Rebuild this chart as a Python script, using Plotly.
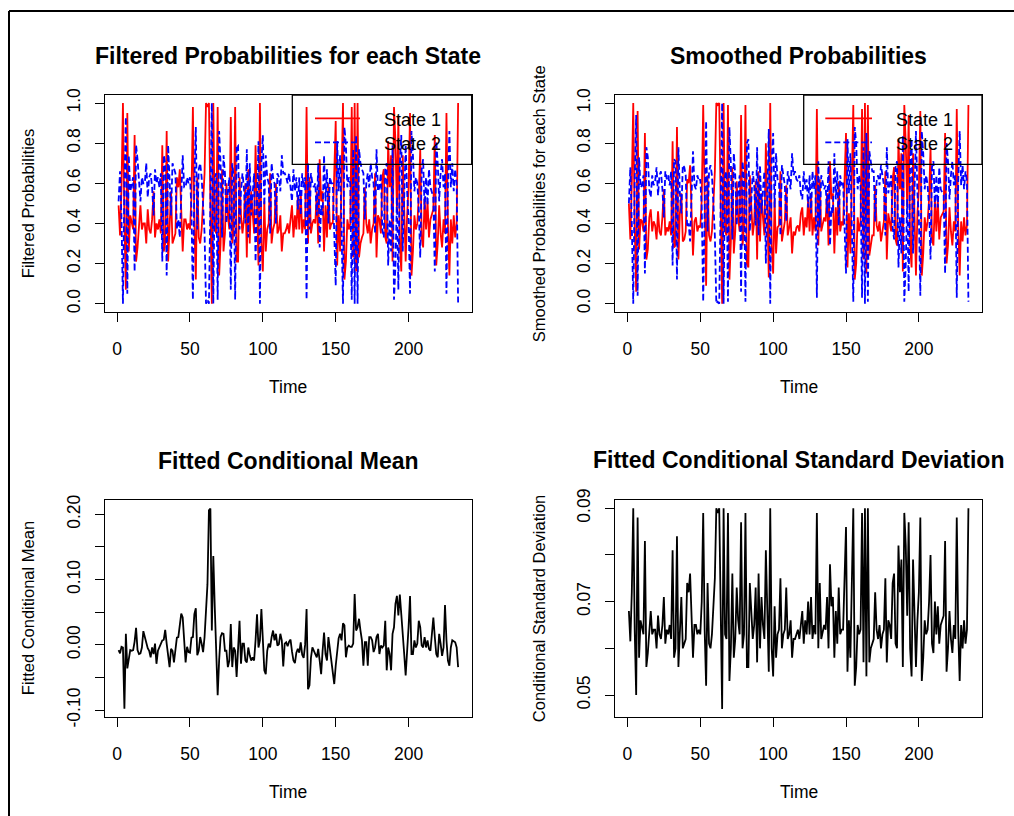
import plotly.graph_objects as go

# ---------------- data ----------------
time = list(range(1, 235))

filtered_state1 = [
    0.49, 0.34, 0.58, 1.0, 0.40, 0.07, 0.95, 0.26, 0.44, 0.40,
    0.37, 0.84, 0.21, 0.28, 0.42, 0.49, 0.37, 0.40, 0.40, 0.30,
    0.47, 0.37, 0.35, 0.42, 0.56, 0.33, 0.40, 0.37, 0.42, 0.35,
    0.79, 0.26, 0.30, 0.86, 0.21, 0.44, 0.56, 0.30, 0.33, 0.35,
    0.63, 0.58, 0.67, 0.44, 0.26, 0.42, 0.42, 0.37, 0.40, 0.37,
    0.53, 0.98, 0.40, 0.12, 0.63, 0.33, 0.30, 0.37, 0.49, 0.65,
    1.0, 0.98, 1.0, 0.35, 0.0, 1.0, 0.37, 0.35, 0.98, 0.14,
    0.30, 0.67, 0.26, 0.35, 0.60, 0.44, 0.37, 0.93, 0.30, 0.37,
    0.98, 0.21, 0.21, 0.63, 0.44, 0.35, 0.42, 0.60, 0.23, 0.67,
    0.30, 0.56, 0.42, 0.35, 0.79, 0.40, 0.19, 1.0, 0.30, 0.16,
    0.51, 0.26, 0.37, 0.40, 0.65, 0.30, 0.37, 0.40, 0.60, 0.35,
    0.37, 0.44, 0.26, 0.35, 0.35, 0.37, 0.40, 0.35, 0.44, 0.49,
    0.33, 0.44, 0.37, 0.53, 0.37, 0.56, 0.35, 0.42, 0.37, 0.98,
    0.30, 0.63, 0.35, 0.40, 0.42, 0.40, 0.56, 0.30, 0.72, 0.51,
    0.56, 0.26, 0.49, 0.33, 0.60, 0.37, 0.40, 0.40, 0.65, 0.91,
    0.19, 0.44, 0.26, 0.58, 1.0, 0.12, 0.21, 0.42, 0.37, 0.40,
    0.98, 0.23, 1.0, 0.16, 1.0, 0.23, 0.30, 0.33, 0.35, 0.58,
    0.40, 0.35, 0.42, 0.30, 0.37, 0.40, 0.65, 0.23, 0.44, 0.42,
    0.35, 0.63, 0.67, 0.33, 0.30, 0.81, 0.58, 0.74, 0.21, 0.98,
    0.81, 0.47, 0.93, 0.30, 0.16, 0.74, 0.40, 0.21, 0.44, 0.58,
    0.95, 0.14, 0.26, 0.44, 0.37, 0.40, 0.53, 0.77, 0.33, 0.28,
    0.53, 0.37, 0.51, 0.33, 0.42, 0.44, 0.47, 0.84, 0.19, 0.30,
    0.49, 0.35, 0.28, 0.42, 0.35, 0.95, 0.40, 0.14, 0.42, 0.30,
    0.44, 0.33, 0.40, 1.0,
]

filtered_state2 = [
    0.51, 0.66, 0.42, 0.0, 0.60, 0.93, 0.05, 0.74, 0.56, 0.60,
    0.63, 0.16, 0.79, 0.72, 0.58, 0.51, 0.63, 0.60, 0.60, 0.70,
    0.53, 0.63, 0.65, 0.58, 0.44, 0.67, 0.60, 0.63, 0.58, 0.65,
    0.21, 0.74, 0.70, 0.14, 0.79, 0.56, 0.44, 0.70, 0.67, 0.65,
    0.37, 0.42, 0.33, 0.56, 0.74, 0.58, 0.58, 0.63, 0.60, 0.63,
    0.47, 0.02, 0.60, 0.88, 0.37, 0.67, 0.70, 0.63, 0.51, 0.35,
    0.0, 0.02, 0.0, 0.65, 1.0, 0.0, 0.63, 0.65, 0.02, 0.86,
    0.70, 0.33, 0.74, 0.65, 0.40, 0.56, 0.63, 0.07, 0.70, 0.63,
    0.02, 0.79, 0.79, 0.37, 0.56, 0.65, 0.58, 0.40, 0.77, 0.33,
    0.70, 0.44, 0.58, 0.65, 0.21, 0.60, 0.81, 0.0, 0.70, 0.84,
    0.49, 0.74, 0.63, 0.60, 0.35, 0.70, 0.63, 0.60, 0.40, 0.65,
    0.63, 0.56, 0.74, 0.65, 0.65, 0.63, 0.60, 0.65, 0.56, 0.51,
    0.67, 0.56, 0.63, 0.47, 0.63, 0.44, 0.65, 0.58, 0.63, 0.02,
    0.70, 0.37, 0.65, 0.60, 0.58, 0.60, 0.44, 0.70, 0.28, 0.49,
    0.44, 0.74, 0.51, 0.67, 0.40, 0.63, 0.60, 0.60, 0.35, 0.09,
    0.81, 0.56, 0.74, 0.42, 0.0, 0.88, 0.79, 0.58, 0.63, 0.60,
    0.02, 0.77, 0.0, 0.84, 0.0, 0.77, 0.70, 0.67, 0.65, 0.42,
    0.60, 0.65, 0.58, 0.70, 0.63, 0.60, 0.35, 0.77, 0.56, 0.58,
    0.65, 0.37, 0.33, 0.67, 0.70, 0.19, 0.42, 0.26, 0.79, 0.02,
    0.19, 0.53, 0.07, 0.70, 0.84, 0.26, 0.60, 0.79, 0.56, 0.42,
    0.05, 0.86, 0.74, 0.56, 0.63, 0.60, 0.47, 0.23, 0.67, 0.72,
    0.47, 0.63, 0.49, 0.67, 0.58, 0.56, 0.53, 0.16, 0.81, 0.70,
    0.51, 0.65, 0.72, 0.58, 0.65, 0.05, 0.60, 0.86, 0.58, 0.70,
    0.56, 0.67, 0.60, 0.0,
]

smoothed_state1 = [
    0.50, 0.32, 0.60, 1.0, 0.38, 0.06, 0.96, 0.27, 0.42, 0.41,
    0.36, 0.85, 0.22, 0.27, 0.43, 0.47, 0.36, 0.41, 0.39, 0.32,
    0.46, 0.36, 0.34, 0.43, 0.57, 0.34, 0.38, 0.36, 0.41, 0.34,
    0.81, 0.28, 0.29, 0.88, 0.22, 0.45, 0.55, 0.31, 0.32, 0.36,
    0.62, 0.60, 0.69, 0.43, 0.24, 0.41, 0.43, 0.36, 0.39, 0.38,
    0.52, 0.99, 0.41, 0.09, 0.64, 0.34, 0.31, 0.36, 0.50, 0.66,
    1.0, 0.99, 1.0, 0.33, 0.0, 1.0, 0.36, 0.34, 0.99, 0.12,
    0.31, 0.68, 0.25, 0.36, 0.61, 0.43, 0.36, 0.94, 0.29, 0.38,
    0.99, 0.20, 0.18, 0.64, 0.45, 0.34, 0.41, 0.61, 0.22, 0.66,
    0.31, 0.55, 0.43, 0.34, 0.80, 0.39, 0.13, 1.0, 0.29, 0.15,
    0.52, 0.25, 0.38, 0.39, 0.66, 0.31, 0.36, 0.41, 0.59, 0.34,
    0.38, 0.43, 0.25, 0.36, 0.34, 0.38, 0.39, 0.36, 0.45, 0.48,
    0.34, 0.43, 0.38, 0.52, 0.36, 0.55, 0.34, 0.43, 0.36, 0.97,
    0.29, 0.62, 0.36, 0.39, 0.43, 0.41, 0.55, 0.29, 0.71, 0.52,
    0.55, 0.25, 0.48, 0.34, 0.61, 0.36, 0.41, 0.39, 0.66, 0.85,
    0.18, 0.45, 0.25, 0.59, 0.99, 0.12, 0.20, 0.43, 0.36, 0.41,
    0.97, 0.22, 1.0, 0.15, 0.99, 0.24, 0.29, 0.34, 0.34, 0.59,
    0.39, 0.36, 0.41, 0.31, 0.36, 0.41, 0.66, 0.22, 0.45, 0.41,
    0.36, 0.62, 0.68, 0.32, 0.29, 0.82, 0.57, 0.75, 0.16, 0.99,
    0.80, 0.48, 0.94, 0.29, 0.18, 0.75, 0.39, 0.14, 0.45, 0.57,
    0.96, 0.14, 0.25, 0.43, 0.36, 0.41, 0.52, 0.78, 0.32, 0.29,
    0.52, 0.36, 0.52, 0.32, 0.43, 0.45, 0.46, 0.85, 0.20, 0.29,
    0.48, 0.36, 0.29, 0.41, 0.36, 0.97, 0.39, 0.14, 0.41, 0.31,
    0.43, 0.34, 0.39, 0.99,
]

smoothed_state2 = [
    0.50, 0.68, 0.40, 0.0, 0.62, 0.94, 0.04, 0.73, 0.58, 0.59,
    0.64, 0.15, 0.78, 0.73, 0.57, 0.53, 0.64, 0.59, 0.61, 0.68,
    0.54, 0.64, 0.66, 0.57, 0.43, 0.66, 0.62, 0.64, 0.59, 0.66,
    0.19, 0.72, 0.71, 0.12, 0.78, 0.55, 0.45, 0.69, 0.68, 0.64,
    0.38, 0.40, 0.31, 0.57, 0.76, 0.59, 0.57, 0.64, 0.61, 0.62,
    0.48, 0.01, 0.59, 0.91, 0.36, 0.66, 0.69, 0.64, 0.50, 0.34,
    0.0, 0.01, 0.0, 0.67, 1.0, 0.0, 0.64, 0.66, 0.01, 0.88,
    0.69, 0.32, 0.75, 0.64, 0.39, 0.57, 0.64, 0.06, 0.71, 0.62,
    0.01, 0.80, 0.82, 0.36, 0.55, 0.66, 0.59, 0.39, 0.78, 0.34,
    0.69, 0.45, 0.57, 0.66, 0.20, 0.61, 0.87, 0.0, 0.71, 0.85,
    0.48, 0.75, 0.62, 0.61, 0.34, 0.69, 0.64, 0.59, 0.41, 0.66,
    0.62, 0.57, 0.75, 0.64, 0.66, 0.62, 0.61, 0.64, 0.55, 0.52,
    0.66, 0.57, 0.62, 0.48, 0.64, 0.45, 0.66, 0.57, 0.64, 0.03,
    0.71, 0.38, 0.64, 0.61, 0.57, 0.59, 0.45, 0.71, 0.29, 0.48,
    0.45, 0.75, 0.52, 0.66, 0.39, 0.64, 0.59, 0.61, 0.34, 0.15,
    0.82, 0.55, 0.75, 0.41, 0.01, 0.88, 0.80, 0.57, 0.64, 0.59,
    0.03, 0.78, 0.0, 0.85, 0.01, 0.76, 0.71, 0.66, 0.66, 0.41,
    0.61, 0.64, 0.59, 0.69, 0.64, 0.59, 0.34, 0.78, 0.55, 0.59,
    0.64, 0.38, 0.32, 0.68, 0.71, 0.18, 0.43, 0.25, 0.84, 0.01,
    0.20, 0.52, 0.06, 0.71, 0.82, 0.25, 0.61, 0.86, 0.55, 0.43,
    0.04, 0.86, 0.75, 0.57, 0.64, 0.59, 0.48, 0.22, 0.68, 0.71,
    0.48, 0.64, 0.48, 0.68, 0.57, 0.55, 0.54, 0.15, 0.80, 0.71,
    0.52, 0.64, 0.71, 0.59, 0.64, 0.03, 0.61, 0.86, 0.59, 0.69,
    0.57, 0.66, 0.61, 0.01,
]

cond_mean = [
    -0.008, -0.013, -0.003, -0.004, -0.098, 0.017, -0.036, -0.018, -0.008, -0.009,
    -0.008, 0.005, 0.026, -0.008, -0.014, -0.013, -0.004, 0.021, 0.011, 0.003,
    -0.005, -0.009, -0.019, -0.004, -0.014, 0.002, -0.029, -0.009, -0.004, 0.002,
    0.007, 0.008, 0.023, 0.002, -0.014, -0.034, -0.006, -0.009, -0.027, -0.004,
    0.011, 0.012, 0.030, 0.048, 0.042, 0.007, -0.027, -0.003, -0.011, -0.012,
    0.011, 0.012, 0.047, 0.056, -0.016, -0.009, 0.012, 0.002, -0.011, 0.012,
    0.047, 0.093, 0.206, 0.209, 0.022, 0.136, 0.058, -0.024, -0.077, -0.024,
    0.012, 0.018, 0.017, -0.009, -0.009, -0.034, -0.024, 0.032, -0.034, -0.004,
    -0.009, -0.049, -0.004, 0.037, -0.029, 0.002, 0.002, -0.024, -0.027, -0.004,
    -0.016, -0.024, -0.019, -0.024, 0.007, 0.047, -0.004, 0.007, 0.055, 0.007,
    -0.039, -0.045, -0.009, 0.002, -0.004, 0.012, 0.022, 0.007, 0.017, -0.001,
    0.001, 0.017, 0.007, -0.033, 0.002, 0.004, -0.002, 0.005, 0.008, -0.010,
    -0.024, -0.028, -0.012, -0.006, -0.012, 0.004, -0.015, -0.020, 0.000, 0.055,
    -0.068, -0.062, -0.020, -0.004, -0.008, -0.014, -0.019, -0.006, -0.024, -0.045,
    -0.009, 0.019, -0.014, -0.024, 0.012, -0.006, -0.024, -0.042, -0.060, -0.032,
    -0.014, 0.010, 0.017, 0.007, 0.033, 0.030, -0.019, -0.004, -0.001, -0.003,
    -0.003, 0.002, 0.078, 0.022, 0.027, 0.040, 0.022, 0.007, -0.032, 0.004,
    0.004, -0.032, 0.012, 0.012, 0.007, -0.011, -0.004, 0.012, 0.017, -0.014,
    -0.001, -0.004, -0.001, 0.037, -0.039, -0.004, -0.014, -0.039, 0.017, 0.027,
    0.063, 0.075, 0.045, 0.077, 0.047, 0.007, -0.014, -0.047, -0.014, 0.027,
    0.075, -0.014, -0.014, 0.007, -0.004, 0.002, 0.037, 0.027, -0.001, -0.004,
    0.012, -0.004, 0.007, -0.006, -0.009, 0.012, 0.042, 0.012, -0.014, -0.019,
    0.017, 0.002, -0.017, -0.004, 0.061, 0.007, -0.024, -0.032, -0.004, 0.007,
    0.006, 0.004, -0.004, -0.034,
]

cond_sd = [
    0.068, 0.0615, 0.072, 0.090, 0.064, 0.050, 0.088, 0.058, 0.066, 0.064,
    0.063, 0.083, 0.056, 0.059, 0.065, 0.068, 0.063, 0.064, 0.064, 0.060,
    0.067, 0.063, 0.062, 0.065, 0.071, 0.061, 0.064, 0.063, 0.065, 0.062,
    0.081, 0.058, 0.060, 0.084, 0.056, 0.066, 0.071, 0.060, 0.061, 0.062,
    0.074, 0.072, 0.076, 0.066, 0.058, 0.065, 0.065, 0.063, 0.064, 0.063,
    0.070, 0.089, 0.064, 0.052, 0.074, 0.061, 0.060, 0.063, 0.068, 0.075,
    0.090, 0.089, 0.090, 0.062, 0.047, 0.090, 0.063, 0.062, 0.089, 0.053,
    0.060, 0.076, 0.058, 0.062, 0.073, 0.066, 0.063, 0.087, 0.060, 0.063,
    0.089, 0.056, 0.056, 0.074, 0.066, 0.062, 0.065, 0.073, 0.057, 0.076,
    0.060, 0.071, 0.065, 0.062, 0.081, 0.064, 0.055, 0.090, 0.060, 0.054,
    0.069, 0.058, 0.063, 0.064, 0.075, 0.060, 0.063, 0.064, 0.073, 0.062,
    0.063, 0.066, 0.058, 0.062, 0.062, 0.063, 0.064, 0.062, 0.066, 0.068,
    0.061, 0.066, 0.063, 0.070, 0.063, 0.071, 0.062, 0.065, 0.063, 0.089,
    0.060, 0.074, 0.062, 0.064, 0.065, 0.064, 0.071, 0.060, 0.078, 0.069,
    0.071, 0.058, 0.068, 0.061, 0.073, 0.063, 0.064, 0.064, 0.075, 0.086,
    0.055, 0.066, 0.058, 0.072, 0.090, 0.052, 0.056, 0.065, 0.063, 0.064,
    0.089, 0.057, 0.090, 0.054, 0.090, 0.057, 0.060, 0.061, 0.062, 0.072,
    0.064, 0.062, 0.065, 0.060, 0.063, 0.064, 0.075, 0.057, 0.066, 0.065,
    0.062, 0.074, 0.076, 0.061, 0.060, 0.082, 0.072, 0.079, 0.056, 0.089,
    0.082, 0.067, 0.087, 0.060, 0.054, 0.079, 0.064, 0.056, 0.066, 0.072,
    0.088, 0.053, 0.058, 0.066, 0.063, 0.064, 0.070, 0.080, 0.061, 0.059,
    0.070, 0.063, 0.069, 0.061, 0.065, 0.066, 0.067, 0.083, 0.055, 0.060,
    0.068, 0.062, 0.059, 0.065, 0.062, 0.088, 0.064, 0.053, 0.065, 0.060,
    0.066, 0.061, 0.064, 0.090,
]

x_ticks = [0, 50, 100, 150, 200]
prob_ticks = [0.0, 0.2, 0.4, 0.6, 0.8, 1.0]
prob_ticktext = ["0.0", "0.2", "0.4", "0.6", "0.8", "1.0"]
mean_ticks = [-0.10, -0.05, 0.00, 0.05, 0.10, 0.15, 0.20]
mean_ticktext = ["-0.10", "", "0.00", "", "0.10", "", "0.20"]
sd_ticks = [0.05, 0.06, 0.07, 0.08, 0.09]
sd_ticktext = ["0.05", "", "0.07", "", "0.09"]
legend_labels = ["State 1", "State 2"]

# ---------------- layout helpers ----------------
W, H = 1014, 816
FONT = "Liberation Sans, Arial, Helvetica, sans-serif"

def fx(p):
    return p / W

def fy(p):
    return 1 - p / H

LEFT = [fx(105), fx(471.7)]
RIGHT = [fx(615.3), fx(982)]
TOP = [fy(311.7), fy(95)]
BOTTOM = [fy(717), fy(500.3)]

fig = go.Figure()

RED = "#ff0000"
BLUE = "#0000ff"
DASH = "6px,3px"
LW = 1.8

fig.add_trace(go.Scatter(x=time, y=filtered_state1, mode="lines", xaxis="x", yaxis="y",
                         line=dict(color=RED, width=LW), showlegend=False))
fig.add_trace(go.Scatter(x=time, y=filtered_state2, mode="lines", xaxis="x", yaxis="y",
                         line=dict(color=BLUE, width=LW, dash=DASH), showlegend=False))
fig.add_trace(go.Scatter(x=time, y=smoothed_state1, mode="lines", xaxis="x2", yaxis="y2",
                         line=dict(color=RED, width=LW), showlegend=False))
fig.add_trace(go.Scatter(x=time, y=smoothed_state2, mode="lines", xaxis="x2", yaxis="y2",
                         line=dict(color=BLUE, width=LW, dash=DASH), showlegend=False))
fig.add_trace(go.Scatter(x=time, y=cond_mean, mode="lines", xaxis="x3", yaxis="y3",
                         line=dict(color="black", width=LW), showlegend=False))
fig.add_trace(go.Scatter(x=time, y=cond_sd, mode="lines", xaxis="x4", yaxis="y4",
                         line=dict(color="black", width=LW), showlegend=False))

axis_common = dict(showline=True, mirror=True, linecolor="black", linewidth=1.3,
                   ticks="outside", ticklen=9, tickwidth=1.3, tickcolor="black",
                   showgrid=False, zeroline=False, automargin=False,
                   tickfont=dict(family=FONT, size=17.5, color="black"))

xr = [-8.32, 243.32]

def xax(domain, anchor):
    return dict(axis_common, domain=domain, anchor=anchor, range=xr,
                tickmode="array", tickvals=x_ticks, ticktext=[str(v) for v in x_ticks],
                ticklabelstandoff=12)

def yax(domain, anchor, rng, vals, text):
    return dict(axis_common, domain=domain, anchor=anchor, range=rng,
                tickmode="array", tickvals=vals, ticktext=text, tickangle=-90,
                ticklabelstandoff=8)

fig.update_layout(
    width=W, height=H, autosize=False,
    margin=dict(l=0, r=0, t=0, b=0, pad=0),
    paper_bgcolor="white", plot_bgcolor="white",
    showlegend=False,
    xaxis=xax(LEFT, "y"),
    yaxis=yax(TOP, "x", [-0.04, 1.04], prob_ticks, prob_ticktext),
    xaxis2=xax(RIGHT, "y2"),
    yaxis2=yax(TOP, "x2", [-0.04, 1.04], prob_ticks, prob_ticktext),
    xaxis3=xax(LEFT, "y3"),
    yaxis3=yax(BOTTOM, "x3", [-0.1105, 0.2215], mean_ticks, mean_ticktext),
    xaxis4=xax(RIGHT, "y4"),
    yaxis4=yax(BOTTOM, "x4", [0.0453, 0.0917], sd_ticks, sd_ticktext),
)

annotations = []

def text(x, y, s, size=17, bold=False, angle=0, xanchor="center"):
    annotations.append(dict(
        x=x, y=y, xref="paper", yref="paper", text=("<b>%s</b>" % s) if bold else s,
        showarrow=False, textangle=angle, xanchor=xanchor, yanchor="middle",
        font=dict(family=FONT, size=size, color="black")))

cxL = fx(288.3)
cxR = fx(798.5)
# titles
text(cxL, fy(56), "Filtered Probabilities for each State", size=23, bold=True)
text(cxR, fy(56), "Smoothed Probabilities", size=23, bold=True)
text(cxL, fy(461), "Fitted Conditional Mean", size=23, bold=True)
text(cxR, fy(460), "Fitted Conditional Standard Deviation", size=23, bold=True)
# x labels
for cx in (cxL, cxR):
    text(cx, fy(386.7), "Time", size=17.5)
    text(cx, fy(792), "Time", size=17.5)
# y labels
text(fx(27.7), fy(203.5), "Filtered Probabilities", size=16.5, angle=-90)
text(fx(538.7), fy(203.5), "Smoothed Probabilities for each State", size=16.5, angle=-90)
text(fx(27.7), fy(608.5), "Fitted Conditional Mean", size=16.5, angle=-90)
text(fx(538.7), fy(608.5), "Conditional Standard Deviation", size=16.5, angle=-90)

shapes = []
# legends (drawn manually, transparent background like the R legend)
for (bx0, bx1, lx0, lx1, tx) in ((292.3, 471.7, 315, 360, 381.7),
                                 (803.7, 982, 825.3, 872, 893.7)):
    shapes.append(dict(type="rect", xref="paper", yref="paper",
                       x0=fx(bx0), x1=fx(bx1), y0=fy(164.3), y1=fy(95),
                       line=dict(color="black", width=1.3), fillcolor="rgba(0,0,0,0)"))
    shapes.append(dict(type="line", xref="paper", yref="paper",
                       x0=fx(lx0), x1=fx(lx1), y0=fy(118.3), y1=fy(118.3),
                       line=dict(color=RED, width=LW)))
    shapes.append(dict(type="line", xref="paper", yref="paper",
                       x0=fx(lx0), x1=fx(lx1), y0=fy(142.3), y1=fy(142.3),
                       line=dict(color=BLUE, width=LW, dash=DASH)))
    text(fx(tx), fy(120), legend_labels[0], size=18, xanchor="left")
    text(fx(tx), fy(144), legend_labels[1], size=18, xanchor="left")

# outer frame (top and left edges visible)
shapes.append(dict(type="line", xref="paper", yref="paper", x0=fx(9), x1=1.0,
                   y0=fy(11), y1=fy(11), line=dict(color="black", width=2)))
shapes.append(dict(type="line", xref="paper", yref="paper", x0=fx(9), x1=fx(9),
                   y0=0.0, y1=fy(11), line=dict(color="black", width=2)))

fig.update_layout(annotations=annotations, shapes=shapes)

fig.write_html("out.html",
               config={"displayModeBar": False},
               post_script="document.body.style.margin='0';"
                           "document.body.style.padding='0';"
                           "document.body.style.overflow='hidden';")
